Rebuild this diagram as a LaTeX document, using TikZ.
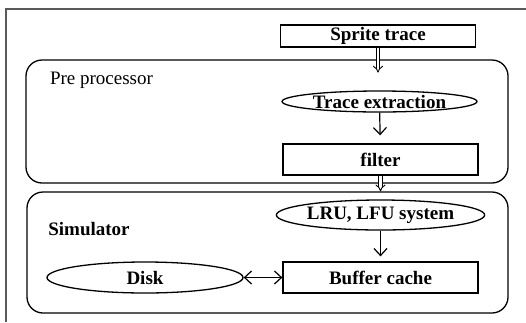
\documentclass[tikz,border=0pt]{standalone}
\usepackage{fontspec}
\setmainfont{Liberation Serif}
\usepackage{tikz}
\usetikzlibrary{positioning}
\usetikzlibrary{shapes.geometric}
\usetikzlibrary{arrows.meta}
\tikzstyle{stage}=[draw, line width=1.3pt, rounded corners=16pt, inner sep=0pt]
\tikzstyle{unit}=[rectangle, draw, line width=1.3pt, minimum width=195pt, font=\bfseries]
\tikzstyle{task}=[ellipse, draw, line width=1.3pt, minimum width=195pt, inner sep=0pt, font=\bfseries]
\tikzstyle{arrow}=[line width=1.2pt, -{Straight Barb[length=7pt, width=13pt]}]
\tikzstyle{pipe}=[line width=0.9pt, double, double distance=2.6pt, -{Implies}]

\begin{document}
\begin{tikzpicture}[x=1pt, y=-1pt]
    \fontsize{19}{22}\selectfont
    \useasboundingbox (0,0) rectangle (526,322);
    % outer frame, only two sides show
    \draw [gray!70!black, line width=1.5pt] (6,322) -- (6,9) -- (526,9);

    \node [stage, minimum width=482pt, minimum height=123pt] (pre-box) at (267,121.5) {};
    \node [stage, minimum width=481pt, minimum height=121pt] (sim-box) at (267.5,252.5) {};
    \node [] (pre-label) at (101.5,80) {Pre processor};
    \node [] (sim-label) at (89,229) {\bfseries Simulator};

    \node [unit, minimum height=22pt, inner sep=1pt] (sprite) at (378,36) {Sprite trace};
    \node [task, minimum height=21pt] (trace) at (379.5,101.5) {Trace extraction};
    \node [unit, minimum height=31pt] (filter) at (380.5,159.5) {filter};

    \node [task, minimum height=30pt] (lru) at (380.5,215) {LRU, LFU system};
    \node [unit, minimum height=31pt] (cache) at (380.5,277.5) {Buffer cache};
    \node [task, minimum width=196pt, minimum height=31pt] (disk) at (145,277.5) {Disk};

    \draw [pipe] (sprite.south) -- ++(0,25);
    \draw [pipe] (filter.south) -- (filter.south |- sim-box.north);

    \draw [arrow, shorten >=8pt] (trace) -- (filter);
    \draw [arrow, shorten >=5pt] (lru) -- (cache);
    \draw [arrow, {Straight Barb[length=7pt, width=13pt]}-{Straight Barb[length=7pt, width=13pt]}] (disk) -- (cache);
\end{tikzpicture}
\end{document}
